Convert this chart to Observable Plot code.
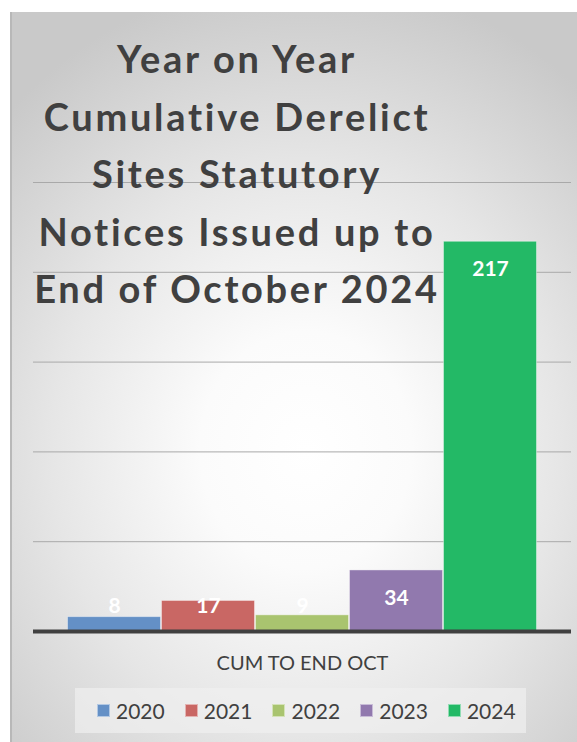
<!DOCTYPE html>
<html>
<head>
<meta charset="utf-8">
<script src="https://cdn.jsdelivr.net/npm/d3@7"></script>
<script src="https://cdn.jsdelivr.net/npm/@observablehq/plot@0.6"></script>
<style>
  html, body { margin: 0; padding: 0; background: #ffffff; }
  #wrap { position: relative; width: 577px; height: 742px; overflow: hidden; font-family: Lato, "Open Sans", sans-serif; }
  #card { position: absolute; left: 10px; top: 12px; width: 565px; height: 730px;
    border-left: 2px solid #b8b8b8;
    background: radial-gradient(ellipse 75% 65% at 52% 60%, #ffffff 0%, #fbfbfb 25%, #e6e6e6 60%, #c9c9c9 100%); }
  #chart { position: absolute; left: 0; top: 0; }
  #title { position: absolute; left: 1px; top: 30px; width: 472px; text-align: center;
    font-weight: 700; font-size: 38px; line-height: 57.5px; color: #404040; letter-spacing: 2.7px; }
  #legend { position: absolute; left: 75px; top: 688px; width: 451px; height: 45px;
    background: rgba(240,240,240,0.7); display: flex; align-items: center; padding-left: 22px; box-sizing: border-box; }
  .item { display: flex; align-items: center; margin-right: 20px; font-size: 21px; color: #404040; }
  .sw { width: 11px; height: 11px; margin-right: 6px; border: 1px solid rgba(255,255,255,0.5); }
</style>
</head>
<body>
<div id="wrap">
  <div id="card"></div>
  <div id="chart"></div>
  <div id="title"></div>
  <div id="legend"></div>
</div>
<script>
const titleLines = ["Year on Year", "Cumulative Derelict", "Sites Statutory", "Notices Issued up to", "End of October 2024"];
const category = "CUM TO END OCT";
const years = ["2020", "2021", "2022", "2023", "2024"];
const values = [8, 17, 9, 34, 217];
const colors = ["#6490c6", "#c96764", "#a9c46f", "#9179ae", "#23b966"];
const gridTicks = [50, 100, 150, 200, 250];

const data = years.map((y, i) => ({year: y, value: values[i], cat: category}));

const chart = Plot.plot({
  width: 577,
  height: 680,
  marginTop: 182,
  marginBottom: 49,
  marginLeft: 33,
  marginRight: 6,
  style: {background: "transparent", fontFamily: "Lato, 'Open Sans', sans-serif", color: "#404040"},
  fx: {domain: [category], padding: 0},
  x: {domain: years, paddingInner: 0, paddingOuter: 0.35, axis: null},
  y: {domain: [0, 250], axis: null},
  color: {domain: years, range: colors},
  marks: [
    Plot.ruleY(gridTicks, {stroke: "#a9a9a9", strokeWidth: 1}),
    Plot.barY(data, {fx: "cat", x: "year", y: "value", fill: "year",
      stroke: "white", strokeOpacity: 0.4, strokeWidth: 1, insetLeft: 0.5, insetRight: 0.5}),
    Plot.ruleY([0], {stroke: "#404040", strokeWidth: 4}),
    Plot.text(data, {fx: "cat", x: "year", y: d => Math.max(d.value - 15.5, 14), text: d => String(d.value),
      fill: "white", fontSize: 21, fontWeight: "bold"}),
    Plot.axisFx({anchor: "bottom", tickSize: 0, tickPadding: 24, fontSize: 20, fill: "#404040", label: null})
  ]
});
document.getElementById("chart").appendChild(chart);

const title = document.getElementById("title");
titleLines.forEach(t => { const d = document.createElement("div"); d.textContent = t; title.appendChild(d); });

const legend = document.getElementById("legend");
years.forEach((y, i) => {
  const it = document.createElement("div"); it.className = "item";
  const sw = document.createElement("div"); sw.className = "sw"; sw.style.background = colors[i];
  const tx = document.createElement("span"); tx.textContent = y;
  it.appendChild(sw); it.appendChild(tx); legend.appendChild(it);
});
</script>
</body>
</html>
